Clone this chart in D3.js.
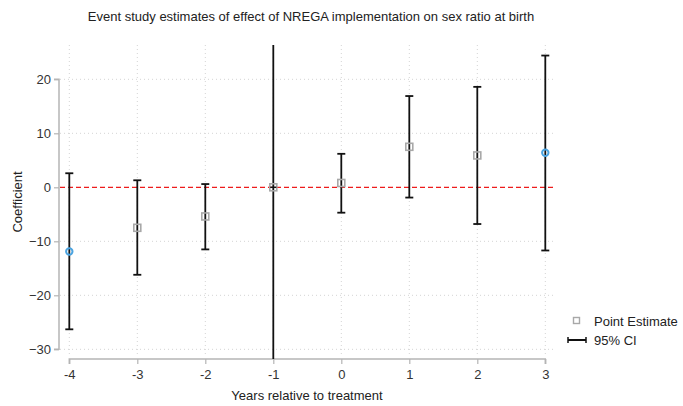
<!DOCTYPE html>
<html>
<head>
<meta charset="utf-8">
<script src="https://cdn.jsdelivr.net/npm/d3@7"></script>
<style>
  body { margin: 0; background: #fff; }
  svg { display: block; font-family: "Liberation Sans", Arial, sans-serif; }
</style>
</head>
<body>
<svg id="chart" width="683" height="406"></svg>
<script>
// Event-time periods and estimates
const years = [-4, -3, -2, -1, 0, 1, 2, 3];
const estimates = [-11.9, -7.5, -5.4, 0, 0.8, 7.5, 5.9, 6.4];
const ciLower = [-26.3, -16.2, -11.5, -60, -4.7, -1.9, -6.8, -11.7];
const ciUpper = [2.6, 1.3, 0.6, 60, 6.2, 16.9, 18.6, 24.4];
const yTicks = [20, 10, 0, -10, -20, -30];
// endpoint periods get a distinct marker
const binned = [true, false, false, false, false, false, false, true];

const svg = d3.select("#chart");
const plot = { left: 59, right: 555, top: 45, bottom: 359 };

const x = d3.scaleLinear().domain([-4, 3]).range([69.3, 545.3]);
const y = d3.scaleLinear().domain([20, -30]).range([79.3, 349.3]);

// clip region for the plot area
svg.append("defs").append("clipPath").attr("id", "plotclip")
  .append("rect")
  .attr("x", plot.left).attr("y", plot.top)
  .attr("width", plot.right - plot.left).attr("height", plot.bottom - plot.top);

// title
svg.append("text")
  .attr("x", 311).attr("y", 21)
  .attr("text-anchor", "middle")
  .attr("font-size", 13).attr("fill", "#222")
  .text("Event study estimates of effect of NREGA implementation on sex ratio at birth");

// gridlines
const grid = svg.append("g").attr("stroke", "#d4d4d4").attr("stroke-dasharray", "1,3").attr("stroke-width", 1);
yTicks.forEach(t => {
  grid.append("line").attr("x1", plot.left + 1).attr("x2", plot.right)
    .attr("y1", y(t)).attr("y2", y(t));
});
years.forEach(t => {
  grid.append("line").attr("x1", x(t)).attr("x2", x(t))
    .attr("y1", plot.top).attr("y2", plot.bottom - 2);
});

// zero reference line
svg.append("line")
  .attr("x1", plot.left + 1).attr("x2", plot.right)
  .attr("y1", y(0)).attr("y2", y(0))
  .attr("stroke", "#ee1c1c").attr("stroke-width", 1.2).attr("stroke-dasharray", "5,3");

// y axis
const yAxis = d3.axisLeft(y).tickValues(yTicks).tickSize(5).tickPadding(3);
const gy = svg.append("g").attr("transform", `translate(${plot.left},0)`).call(yAxis);
gy.select(".domain").attr("stroke", "#b5b5b5").attr("stroke-width", 1.5).attr("d", `M-5,${y(20)}H0V${y(-30)}H-5`);
gy.selectAll(".tick line").attr("stroke", "#b5b5b5").attr("stroke-width", 1.2);
gy.selectAll(".tick text").attr("font-size", 13).attr("fill", "#333")
  .attr("font-family", "Liberation Sans, Arial, sans-serif");

// x axis
const xAxis = d3.axisBottom(x).tickValues(years).tickSize(5).tickPadding(6).tickFormat(d3.format("d"));
const gx = svg.append("g").attr("transform", `translate(0,${plot.bottom})`).call(xAxis);
gx.select(".domain").attr("stroke", "#b5b5b5").attr("stroke-width", 1.5).attr("d", `M${x(-4)},5V0H${x(3)}V5`);
gx.selectAll(".tick line").attr("stroke", "#b5b5b5").attr("stroke-width", 1.2);
gx.selectAll(".tick text").attr("font-size", 13).attr("fill", "#333")
  .attr("font-family", "Liberation Sans, Arial, sans-serif");
gx.selectAll(".tick text").text(d => d < 0 ? "-" + Math.abs(d) : d);

// axis titles
svg.append("text")
  .attr("x", 307).attr("y", 400)
  .attr("text-anchor", "middle").attr("font-size", 13).attr("fill", "#222")
  .text("Years relative to treatment");
svg.append("text")
  .attr("transform", "translate(22,202) rotate(-90)")
  .attr("text-anchor", "middle").attr("font-size", 13).attr("fill", "#222")
  .text("Coefficient");

const data = years.map((yr, i) => ({
  yr, est: estimates[i], lo: ciLower[i], hi: ciUpper[i], binned: binned[i]
}));

// confidence intervals
const ci = svg.append("g").attr("clip-path", "url(#plotclip)")
  .attr("stroke", "#111").attr("stroke-width", 1.8);
const capW = 4;
data.forEach(d => {
  ci.append("line").attr("x1", x(d.yr)).attr("x2", x(d.yr))
    .attr("y1", y(d.lo)).attr("y2", y(d.hi));
  ci.append("line").attr("x1", x(d.yr) - capW).attr("x2", x(d.yr) + capW)
    .attr("y1", y(d.lo)).attr("y2", y(d.lo));
  ci.append("line").attr("x1", x(d.yr) - capW).attr("x2", x(d.yr) + capW)
    .attr("y1", y(d.hi)).attr("y2", y(d.hi));
});

// point estimates
const pts = svg.append("g");
data.forEach(d => {
  if (d.binned) {
    pts.append("circle").attr("cx", x(d.yr)).attr("cy", y(d.est)).attr("r", 3.2)
      .attr("fill", "none").attr("stroke", "#4aa3e0").attr("stroke-width", 2);
  } else {
    pts.append("rect").attr("x", x(d.yr) - 3.5).attr("y", y(d.est) - 3.5)
      .attr("width", 7).attr("height", 7)
      .attr("fill", "none").attr("stroke", "#a8a8a8").attr("stroke-width", 1.6);
    if (d.yr === -1) {
      pts.append("line").attr("x1", x(d.yr) - 3).attr("x2", x(d.yr) + 3)
        .attr("y1", y(d.est)).attr("y2", y(d.est))
        .attr("stroke", "#111").attr("stroke-width", 1.5);
    }
  }
});

// legend
const lg = svg.append("g");
lg.append("rect").attr("x", 573.5).attr("y", 317.5).attr("width", 6).attr("height", 6)
  .attr("fill", "none").attr("stroke", "#a8a8a8").attr("stroke-width", 1.4);
lg.append("text").attr("x", 594).attr("y", 325.5).attr("font-size", 13).attr("fill", "#222")
  .text("Point Estimate");
lg.append("line").attr("x1", 568).attr("x2", 586).attr("y1", 340).attr("y2", 340)
  .attr("stroke", "#111").attr("stroke-width", 2);
lg.append("line").attr("x1", 568).attr("x2", 568).attr("y1", 337).attr("y2", 343)
  .attr("stroke", "#111").attr("stroke-width", 1.5);
lg.append("line").attr("x1", 586).attr("x2", 586).attr("y1", 337).attr("y2", 343)
  .attr("stroke", "#111").attr("stroke-width", 1.5);
lg.append("text").attr("x", 594).attr("y", 345).attr("font-size", 13).attr("fill", "#222")
  .text("95% CI");
</script>
</body>
</html>
